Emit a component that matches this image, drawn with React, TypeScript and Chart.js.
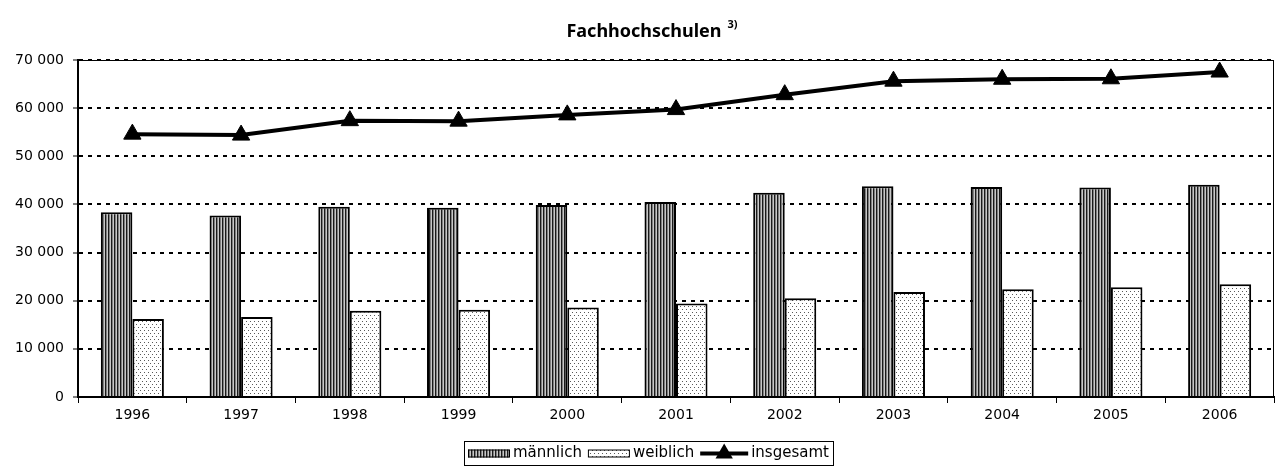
import React, { useEffect, useRef } from 'react';
import { Chart, registerables } from 'chart.js';

Chart.register(...registerables);

const categories = ['1996', '1997', '1998', '1999', '2000', '2001', '2002', '2003', '2004', '2005', '2006'];
const maennlich = [38400, 37700, 39500, 39300, 39900, 40500, 42400, 43800, 43600, 43500, 44100];
const weiblich = [16200, 16600, 17900, 18100, 18600, 19400, 20500, 21800, 22400, 22800, 23400];
const insgesamt = [54600, 54400, 57400, 57300, 58600, 59700, 62800, 65600, 66000, 66100, 67500];
const yMin = 0;
const yMax = 70000;
const yStep = 10000;
const seriesLabels = ['männlich', 'weiblich', 'insgesamt'];
const titleText = 'Fachhochschulen';
const titleSup = '3)';

const FONT = '"DejaVu Sans", sans-serif';

function fmt(v: number): string {
  return String(v).replace(/\B(?=(\d{3})+(?!\d))/g, ' ');
}

function makeStripes(): CanvasPattern | string {
  const c = document.createElement('canvas');
  c.width = 3;
  c.height = 4;
  const g = c.getContext('2d');
  if (!g) return '#777';
  g.fillStyle = '#1a1a1a';
  g.fillRect(0, 0, 1, 4);
  g.fillStyle = '#808080';
  g.fillRect(1, 0, 1, 4);
  g.fillStyle = '#c8c8c8';
  g.fillRect(2, 0, 1, 4);
  return g.createPattern(c, 'repeat') || '#777';
}

function makeDots(): CanvasPattern | string {
  const c = document.createElement('canvas');
  c.width = 4;
  c.height = 6;
  const g = c.getContext('2d');
  if (!g) return '#eee';
  g.fillStyle = '#ffffff';
  g.fillRect(0, 0, 4, 6);
  g.fillStyle = '#5a5a5a';
  g.fillRect(0, 0, 1, 1);
  g.fillRect(2, 3, 1, 1);
  return g.createPattern(c, 'repeat') || '#eee';
}

const borderPlugin = {
  id: 'plotBorder',
  beforeDatasetsDraw(chart: any) {
    const { ctx, chartArea } = chart;
    ctx.save();
    ctx.strokeStyle = '#000';
    ctx.lineWidth = 1;
    ctx.strokeRect(chartArea.left + 0.5, chartArea.top + 0.5, chartArea.right - chartArea.left - 1, chartArea.bottom - chartArea.top);
    ctx.restore();
  },
};

const titlePlugin = {
  id: 'supTitle',
  afterDraw(chart: any) {
    const { ctx } = chart;
    ctx.save();
    ctx.fillStyle = '#000';
    ctx.textBaseline = 'alphabetic';
    const big = `bold 18px "Noto Sans", ${FONT}`;
    const small = `bold 11px "Noto Sans", ${FONT}`;
    ctx.font = big;
    const w = ctx.measureText(titleText).width;
    ctx.font = small;
    const ws = ctx.measureText(titleSup).width;
    const total = w + 6 + ws;
    const x0 = 652 - total / 2;
    ctx.font = big;
    ctx.textAlign = 'left';
    ctx.fillText(titleText, x0, 37);
    ctx.font = small;
    ctx.fillText(titleSup, x0 + w + 6, 28);
    ctx.restore();
  },
};

const legendPlugin = {
  id: 'boxLegend',
  afterDraw(chart: any) {
    const { ctx } = chart;
    const ds = chart.data.datasets;
    ctx.save();
    ctx.font = `15px ${FONT}`;
    const swW = 42;
    const swH = 8;
    const lineW = 48;
    const gapText = 3;
    const gapItem = 6;
    const pad = 4;
    const items = [
      { kind: 'bar', ds: ds[0], text: seriesLabels[0] },
      { kind: 'bar', ds: ds[1], text: seriesLabels[1] },
      { kind: 'line', ds: ds[2], text: seriesLabels[2] },
    ];
    let total = 0;
    items.forEach((it, i) => {
      const sw = it.kind === 'line' ? lineW : swW;
      total += sw + gapText + ctx.measureText(it.text).width + (i < items.length - 1 ? gapItem : 0);
    });
    const cx = 648;
    const boxTop = 441;
    const boxH = 24;
    const boxL = Math.round(cx - total / 2 - pad);
    const boxW = Math.round(total + 2 * pad);
    ctx.strokeStyle = '#000';
    ctx.lineWidth = 1;
    ctx.strokeRect(boxL + 0.5, boxTop + 0.5, boxW, boxH);
    const midY = boxTop + boxH / 2 + 0.5;
    let x = boxL + pad;
    items.forEach((it) => {
      if (it.kind === 'bar') {
        ctx.fillStyle = it.ds.backgroundColor;
        ctx.fillRect(x, midY - swH / 2, swW, swH);
        ctx.strokeStyle = '#000';
        ctx.lineWidth = 1;
        ctx.strokeRect(x + 0.5, midY - swH / 2 + 0.5, swW - 1, swH - 1);
        x += swW + gapText;
      } else {
        ctx.strokeStyle = '#000';
        ctx.lineWidth = 4;
        ctx.beginPath();
        ctx.moveTo(x, midY);
        ctx.lineTo(x + lineW, midY);
        ctx.stroke();
        const r = 10;
        const px = x + lineW / 2;
        ctx.fillStyle = '#000';
        ctx.beginPath();
        ctx.moveTo(px, midY - r);
        ctx.lineTo(px + r * Math.sin((2 * Math.PI) / 3), midY + r / 2);
        ctx.lineTo(px - r * Math.sin((2 * Math.PI) / 3), midY + r / 2);
        ctx.closePath();
        ctx.fill();
        x += lineW + gapText;
      }
      ctx.fillStyle = '#000';
      ctx.textAlign = 'left';
      ctx.textBaseline = 'middle';
      ctx.fillText(it.text, x, midY);
      x += ctx.measureText(it.text).width + gapItem;
    });
    ctx.restore();
  },
};

export default function App() {
  const ref = useRef<HTMLCanvasElement | null>(null);

  useEffect(() => {
    if (!ref.current) return;
    const stripes = makeStripes();
    const dots = makeDots();
    const chart = new Chart(ref.current, {
      type: 'bar',
      data: {
        labels: categories,
        datasets: [
          {
            type: 'bar',
            label: seriesLabels[0],
            data: maennlich,
            backgroundColor: stripes as any,
            borderColor: '#000',
            borderWidth: 2,
            borderSkipped: 'start',
            categoryPercentage: 0.58,
            barPercentage: 1.0,
            order: 1,
          },
          {
            type: 'bar',
            label: seriesLabels[1],
            data: weiblich,
            backgroundColor: dots as any,
            borderColor: '#000',
            borderWidth: 2,
            borderSkipped: 'start',
            categoryPercentage: 0.58,
            barPercentage: 1.0,
            order: 2,
          },
          {
            type: 'line',
            label: seriesLabels[2],
            data: insgesamt,
            borderColor: '#000',
            borderWidth: 4,
            backgroundColor: '#000',
            pointStyle: 'triangle',
            pointRadius: 10,
            pointBackgroundColor: '#000',
            pointBorderColor: '#000',
            pointBorderWidth: 1,
            tension: 0,
            fill: false,
            order: 0,
          } as any,
        ],
      },
      options: {
        responsive: false,
        animation: false,
        events: [],
        layout: { padding: { top: 60, left: 0, right: 7, bottom: 0 } },
        plugins: {
          legend: { display: false },
          title: { display: false },
          tooltip: { enabled: false },
        },
        scales: {
          x: {
            offset: true,
            grid: {
              offset: true,
              drawOnChartArea: false,
              drawTicks: true,
              tickLength: 6,
              tickColor: '#000',
              tickWidth: 1,
            },
            border: { display: true, color: '#000', width: 2 },
            ticks: {
              color: '#000',
              font: { family: FONT, size: 14 },
              padding: 4,
              maxRotation: 0,
              autoSkip: false,
            },
            afterFit(scale: any) {
              scale.height = 76;
            },
          },
          y: {
            min: yMin,
            max: yMax,
            grid: {
              color: '#000',
              lineWidth: 2,
              drawTicks: true,
              tickLength: 5,
              tickColor: '#000',
              tickWidth: 1,
              tickBorderDash: [],
            },
            border: { display: true, color: '#000', width: 2, dash: [4, 5] },
            ticks: {
              stepSize: yStep,
              color: '#000',
              font: { family: FONT, size: 14 },
              padding: 9,
              callback: (v: any) => fmt(Number(v)),
            },
            afterFit(scale: any) {
              scale.width = 78;
            },
          },
        },
      },
      plugins: [borderPlugin, titlePlugin, legendPlugin],
    });
    return () => chart.destroy();
  }, []);

  return (
    <div style={{ position: 'fixed', left: 0, top: 0, width: 1285, height: 473, background: '#fff' }}>
      <canvas ref={ref} width={1285} height={473} style={{ display: 'block' }} />
    </div>
  );
}
